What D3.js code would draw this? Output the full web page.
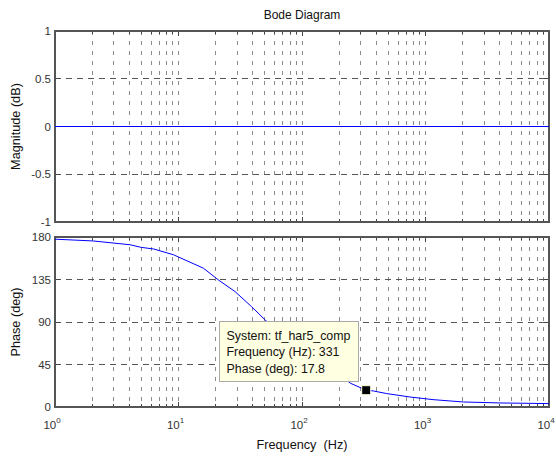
<!DOCTYPE html>
<html>
<head>
<meta charset="utf-8">
<script src="https://cdn.jsdelivr.net/npm/d3@7"></script>
<style>
  body { margin: 0; background: #fff; }
  svg { font-family: "Liberation Sans", Arial, sans-serif; }
  .tick-label { font-size: 11.5px; fill: #333; }
  .axis-label { font-size: 12.7px; fill: #111; }
</style>
</head>
<body>
<div id="chart"></div>
<script>
// bode of tf_har5_comp
const MAG_FREQ = [1, 10000];
const MAG_DB = [0, 0];

const PHASE_FREQ = [1, 2.04, 4.05, 5.0, 6.3, 9.1, 15.9, 21, 28.7, 39, 51, 249, 331, 378, 485, 748, 1150, 2030, 4000, 10000];
const PHASE_DEG = [177.7, 175.8, 171.8, 169, 167.3, 161.2, 147, 134.6, 122.2, 106.3, 91.4, 24.9, 17.8, 17, 14.2, 10.6, 7.8, 5.3, 4.3, 3.6];

const MAG_TICKS = [-1, -0.5, 0, 0.5, 1];
const PHASE_TICKS = [0, 45, 90, 135, 180];
const DECADES = [0, 1, 2, 3, 4];

const TIP = { freq: 331, phase: 17.8, lines: ["System: tf_har5_comp", "Frequency (Hz): 331", "Phase (deg): 17.8"] };

const W = 556, H = 457;
const LEFT = 55, RIGHT = 549;
const MAG_BOX = { top: 31, bottom: 222 };
const PH_BOX = { top: 237, bottom: 407 };

const svg = d3.select("#chart").append("svg").attr("width", W).attr("height", H);

const x = d3.scaleLog().domain([1, 10000]).range([LEFT, RIGHT]);
const yMag = d3.scaleLinear().domain([-1, 1]).range([MAG_BOX.bottom, MAG_BOX.top]);
const yPh = d3.scaleLinear().domain([0, 180]).range([PH_BOX.bottom, PH_BOX.top]);

// minor + major log frequencies for the grid
const gridFreqs = [];
DECADES.slice(0, -1).forEach((e) => {
  for (let k = 1; k <= 9; k++) gridFreqs.push(k * Math.pow(10, e));
});
gridFreqs.push(10000);

function drawPanel(box, y, ticks) {
  const g = svg.append("g");
  // vertical grid
  g.selectAll(".vgrid")
    .data(gridFreqs.filter((f) => f > 1 && f < 10000))
    .join("line")
    .attr("x1", (d) => x(d)).attr("x2", (d) => x(d))
    .attr("y1", box.top).attr("y2", box.bottom)
    .attr("stroke", "#8a8a8a")
    .attr("stroke-width", 1)
    .attr("stroke-dasharray", "4,6")
    .attr("shape-rendering", "crispEdges");
  // horizontal grid
  g.selectAll(".hgrid")
    .data(ticks.slice(1, -1))
    .join("line")
    .attr("x1", LEFT).attr("x2", RIGHT)
    .attr("y1", (d) => y(d)).attr("y2", (d) => y(d))
    .attr("stroke", "#555")
    .attr("stroke-width", 1)
    .attr("stroke-dasharray", "6,5")
    .attr("shape-rendering", "crispEdges");

  // x ticks inside the box (top + bottom)
  g.selectAll(".xt")
    .data(gridFreqs.filter((f) => f > 1 && f < 10000))
    .join("path")
    .attr("d", (d) => {
      const len = Number.isInteger(Math.log10(d)) ? 5 : 3;
      return `M${x(d)},${box.bottom}v${-len}M${x(d)},${box.top}v${len}`;
    })
    .attr("stroke", "#444")
    .attr("shape-rendering", "crispEdges");
  // y ticks left + right
  g.selectAll(".yt")
    .data(ticks)
    .join("path")
    .attr("d", (d) => `M${LEFT},${y(d)}h5M${RIGHT},${y(d)}h-5`)
    .attr("stroke", "#444")
    .attr("shape-rendering", "crispEdges");

  // box
  g.append("rect")
    .attr("x", LEFT).attr("y", box.top)
    .attr("width", RIGHT - LEFT).attr("height", box.bottom - box.top)
    .attr("fill", "none")
    .attr("stroke", "#555")
    .attr("stroke-width", 1.2)
    .attr("shape-rendering", "crispEdges");

  // y tick labels
  g.selectAll(".yl")
    .data(ticks)
    .join("text")
    .attr("class", "tick-label")
    .attr("x", LEFT - 4)
    .attr("y", (d) => y(d))
    .attr("dy", "0.35em")
    .attr("text-anchor", "end")
    .text((d) => d);
  return g;
}

drawPanel(MAG_BOX, yMag, MAG_TICKS);
drawPanel(PH_BOX, yPh, PHASE_TICKS);

// curves
const magLine = d3.line().x((d, i) => x(MAG_FREQ[i])).y((d) => yMag(d));
svg.append("path")
  .datum(MAG_DB)
  .attr("d", magLine)
  .attr("fill", "none")
  .attr("stroke", "#0000ff")
  .attr("stroke-width", 1.2);

const phLine = d3.line().x((d, i) => x(PHASE_FREQ[i])).y((d) => yPh(d));
svg.append("path")
  .datum(PHASE_DEG)
  .attr("d", phLine)
  .attr("fill", "none")
  .attr("stroke", "#0000ff")
  .attr("stroke-width", 1);

// x tick labels 10^n
DECADES.forEach((e) => {
  const t = svg.append("text")
    .attr("class", "tick-label")
    .attr("x", x(Math.pow(10, e)) - 3)
    .attr("y", 429)
    .attr("text-anchor", "middle");
  t.append("tspan").text("10");
  t.append("tspan").attr("dy", -6).attr("font-size", "8px").text(e);
});

// titles
svg.append("text")
  .attr("x", (LEFT + RIGHT) / 2).attr("y", 19)
  .attr("text-anchor", "middle")
  .attr("font-size", "12px").attr("fill", "#111")
  .text("Bode Diagram");

svg.append("text")
  .attr("class", "axis-label")
  .attr("x", (LEFT + RIGHT) / 2).attr("y", 449)
  .attr("text-anchor", "middle")
  .attr("xml:space", "preserve")
  .text("Frequency  (Hz)");

svg.append("text")
  .attr("class", "axis-label")
  .attr("transform", `translate(20,${(MAG_BOX.top + MAG_BOX.bottom) / 2}) rotate(-90)`)
  .attr("text-anchor", "middle")
  .text("Magnitude (dB)");

svg.append("text")
  .attr("class", "axis-label")
  .attr("transform", `translate(20,${(PH_BOX.top + PH_BOX.bottom) / 2}) rotate(-90)`)
  .attr("text-anchor", "middle")
  .text("Phase (deg)");

// datatip
const mx = x(TIP.freq), my = yPh(TIP.phase);
svg.append("rect")
  .attr("x", mx - 4.5).attr("y", my - 4.5)
  .attr("width", 9).attr("height", 9)
  .attr("fill", "#000")
  .attr("stroke", "#ffffe0").attr("stroke-width", 1);

const tip = svg.append("g").attr("transform", "translate(219.5,321.5)");
tip.append("rect")
  .attr("width", 139).attr("height", 60)
  .attr("fill", "#ffffe1")
  .attr("stroke", "#aaa");
tip.selectAll("text")
  .data(TIP.lines)
  .join("text")
  .attr("x", 7)
  .attr("y", (d, i) => 18 + i * 16.5)
  .attr("font-size", "12.4px")
  .attr("fill", "#111")
  .text((d) => d);
</script>
</body>
</html>
